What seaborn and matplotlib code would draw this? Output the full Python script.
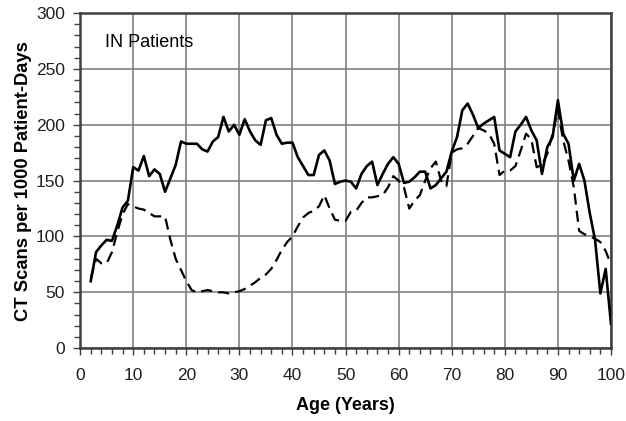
import matplotlib
matplotlib.use("Agg")
import matplotlib.pyplot as plt
import seaborn as sns
import pandas as pd
from matplotlib.ticker import MultipleLocator

ages = list(range(2, 101))
solid_vals = [60, 86, 92, 97, 96, 110, 126, 132, 162, 159,
              172, 154, 160, 156, 140, 152, 164, 185, 183, 183,
              183, 178, 176, 185, 189, 207, 194, 200, 191, 205,
              194, 186, 182, 204, 206, 191, 183, 184, 184, 171,
              163, 155, 155, 173, 177, 168, 147, 149, 150, 149,
              143, 156, 163, 167, 146, 156, 165, 171, 165, 148,
              149, 153, 158, 158, 143, 146, 152, 158, 176, 189,
              213, 219, 209, 197, 201, 204, 207, 177, 174, 171,
              194, 200, 207, 195, 186, 156, 180, 189, 222, 192,
              183, 150, 165, 150, 121, 97, 49, 71, 22]
dashed_vals = [62, 80, 76, 76, 86, 104, 120, 129, 127, 125,
               124, 121, 118, 118, 118, 97, 80, 70, 60, 52,
               50, 51, 52, 51, 50, 50, 49, 50, 51, 53,
               56, 59, 63, 66, 71, 79, 88, 95, 100, 109,
               117, 121, 123, 127, 137, 125, 115, 114, 114, 122,
               123, 130, 135, 135, 136, 137, 144, 154, 150, 144,
               125, 132, 137, 150, 161, 167, 150, 145, 175, 178,
               179, 183, 190, 197, 195, 192, 183, 155, 159, 159,
               163, 177, 192, 187, 162, 164, 174, 192, 213, 186,
               168, 144, 105, 102, 100, 98, 95, 87, 75]

plt.rcParams['font.family'] = ['Liberation Sans', 'DejaVu Sans']

fig = plt.figure(figsize=(6.26, 4.21), dpi=100)
ax = fig.add_axes([0.128, 0.173, 0.848, 0.796])

df_s = pd.DataFrame({"age": ages, "val": solid_vals})
df_d = pd.DataFrame({"age": ages, "val": dashed_vals})
sns.lineplot(data=df_s, x="age", y="val", ax=ax, color="black", linewidth=1.9, zorder=3)
sns.lineplot(data=df_d, x="age", y="val", ax=ax, color="black", linewidth=1.6, zorder=3)
ax.lines[-1].set_dashes([5, 2.8])

ax.set_xlim(0, 100)
ax.set_ylim(0, 300)
ax.xaxis.set_major_locator(MultipleLocator(10))
ax.yaxis.set_major_locator(MultipleLocator(50))
ax.xaxis.set_minor_locator(MultipleLocator(2))
ax.yaxis.set_minor_locator(MultipleLocator(10))
ax.grid(True, which="major", color="#808080", linewidth=1.2, zorder=0)
ax.set_axisbelow(True)
for sp in ax.spines.values():
    sp.set_color("#404040")
    sp.set_linewidth(1.8)
ax.tick_params(which="major", direction="out", length=5, width=1, labelsize=12.5, color="#404040",
               labelcolor="#202020")
ax.tick_params(axis="x", which="major", pad=9.5)
ax.tick_params(axis="y", which="major", pad=6)
ax.tick_params(which="minor", direction="out", length=4, width=1, color="#404040")
ax.set_xlabel("Age (Years)", fontsize=13, fontweight="bold", labelpad=10)
ax.set_ylabel("CT Scans per 1000 Patient-Days", fontsize=13.2, fontweight="bold", labelpad=3)
ax.text(4.7, 270, "IN Patients", fontsize=13)

fig.savefig("out.png", dpi=100)
